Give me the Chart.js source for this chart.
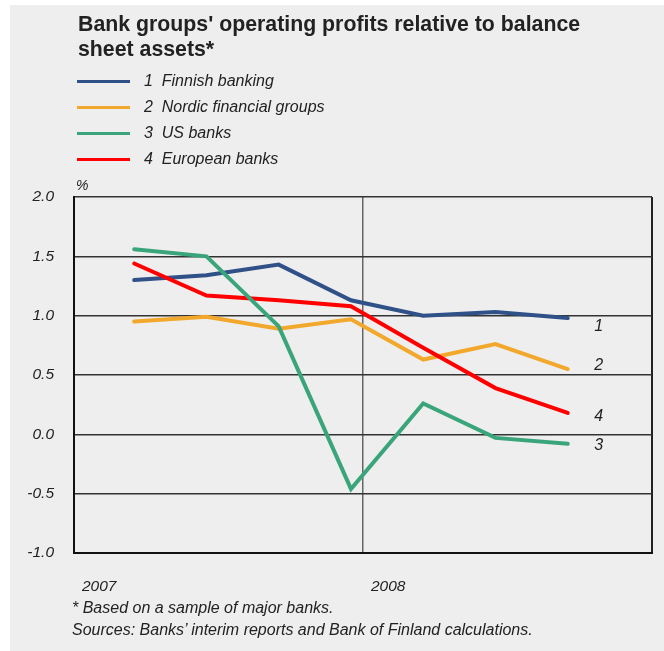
<!DOCTYPE html>
<html>
<head>
<meta charset="utf-8">
<title>Bank groups' operating profits</title>
<script src="https://cdn.jsdelivr.net/npm/chart.js@4/dist/chart.umd.min.js"></script>
<style>
    html, body { margin: 0; padding: 0; background: #fff; }
    #panel {
        position: absolute; left: 10px; top: 5px; width: 654px; height: 646px;
        background: #eeeeee;
    }
    #chart { position: absolute; left: 0; top: 0; }
    .title {
        position: absolute; left: 78px; top: 12px; margin: 0;
        font: bold 21.3px "Liberation Sans", Arial, sans-serif; line-height: 25px; color: #222;
    }
    .legend { position: absolute; left: 77px; top: 68px; }
    .legend__item { height: 26px; display: flex; align-items: center;
        font: italic 16px "Liberation Sans", Arial, sans-serif; color: #222; }
    .legend__line { width: 53px; height: 3px; margin-right: 14px; }
    .note { position: absolute; left: 72px; margin: 0;
        font: italic 16px "Liberation Sans", Arial, sans-serif; color: #222; }
</style>
</head>
<body>
<div id="panel"></div>
<canvas id="chart" width="664" height="651"></canvas>
<h3 class="title">Bank groups' operating profits relative to balance<br>sheet assets*</h3>
<div class="legend" id="legend"></div>
<p class="note" style="top:599px">* Based on a sample of major banks.</p>
<p class="note" style="top:621px">Sources: Banks’ interim reports and Bank of Finland calculations.</p>

<script>
// Quarterly observations, x in months from the start of 2007
const months = [2.5, 5.5, 8.5, 11.5, 14.5, 17.5, 20.5];

const finnishBanking = [1.30, 1.34, 1.43, 1.13, 1.00, 1.03, 0.98];
const nordicGroups   = [0.95, 0.99, 0.89, 0.97, 0.63, 0.76, 0.55];
const usBanks        = [1.56, 1.50, 0.91, -0.46, 0.26, -0.03, -0.08];
const europeanBanks  = [1.44, 1.17, 1.13, 1.08, 0.73, 0.39, 0.18];

const seriesNames = ['Finnish banking', 'Nordic financial groups', 'US banks', 'European banks'];
const seriesColors = ['#2f5188', '#f2a82c', '#3aa57a', '#ff0000'];

// Year boundaries on the x axis; the last one only closes the frame
const yearTicks = [0, 12, 24];
const yearLabels = ['2007', '2008', ''];

const FONT = '"Liberation Sans", Arial, sans-serif';

function toPoints(values) {
    return values.map((v, i) => ({ x: months[i], y: v }));
}

// number tags next to the last point of each line
const endLabels = {
    id: 'endLabels',
    afterDatasetsDraw(chart, args, opts) {
        const ctx = chart.ctx;
        ctx.save();
        ctx.font = 'italic 16px ' + FONT;
        ctx.fillStyle = '#222';
        ctx.textAlign = 'center';
        ctx.textBaseline = 'middle';
        chart.data.datasets.forEach((ds, i) => {
            const meta = chart.getDatasetMeta(i);
            const last = meta.data[meta.data.length - 1];
            ctx.fillText(String(i + 1), last.x + opts.dx, last.y + opts.dy[i]);
        });
        ctx.restore();
    }
};

// unit sign above the top-left corner of the plot
const unitLabel = {
    id: 'unitLabel',
    afterDraw(chart) {
        const ctx = chart.ctx;
        ctx.save();
        ctx.font = 'italic 14px ' + FONT;
        ctx.fillStyle = '#222';
        ctx.textBaseline = 'middle';
        ctx.fillText('%', chart.chartArea.left + 2, chart.chartArea.top - 11);
        ctx.restore();
    }
};

const datasets = [finnishBanking, nordicGroups, usBanks, europeanBanks].map((values, i) => ({
    label: (i + 1) + '  ' + seriesNames[i],
    data: toPoints(values),
    borderColor: seriesColors[i],
    backgroundColor: seriesColors[i],
    borderWidth: 4,
    borderCapStyle: 'round',
    pointRadius: 0,
    tension: 0,
    order: [4, 3, 1, 2][i]
}));

const chart = new Chart(document.getElementById('chart'), {
    type: 'line',
    data: { datasets },
    options: {
        responsive: false,
        animation: false,
        layout: { padding: { top: 197, right: 12, left: 0, bottom: 0 } },
        plugins: {
            legend: { display: false },
            tooltip: { enabled: false },
            endLabels: { dx: 31, dy: [9, -4, 2, 4] }
        },
        scales: {
            x: {
                type: 'linear',
                min: 0,
                max: 24,
                afterBuildTicks: s => { s.ticks = yearTicks.map(v => ({ value: v })); },
                afterFit: s => {
                    s.height = 98;
                    // keep the label padding from eating into the plot width
                    s.paddingLeft = 0;
                    s.paddingRight = 0;
                },
                ticks: {
                    align: 'start',
                    labelOffset: 8,
                    padding: 24,
                    color: '#222',
                    font: { family: FONT, size: 15.5, style: 'italic' },
                    callback: v => yearLabels[yearTicks.indexOf(v)]
                },
                grid: {
                    drawTicks: false,
                    color: c => c.tick.value === 12 ? '#666' : '#222',
                    lineWidth: c => c.tick.value === 12 ? 1.5 : 2
                },
                border: { color: '#111', width: 2 }
            },
            y: {
                min: -1,
                max: 2,
                afterFit: s => { s.width = 74; },
                ticks: {
                    stepSize: 0.5,
                    padding: 20,
                    color: '#222',
                    font: { family: FONT, size: 15.5, style: 'italic' },
                    callback: v => v.toFixed(1)
                },
                grid: { drawTicks: false, color: '#333', lineWidth: 1.5 },
                border: { color: '#111', width: 2 }
            }
        }
    },
    plugins: [endLabels, unitLabel]
});

// legend rows built from the datasets
const legendEl = document.getElementById('legend');
chart.data.datasets.forEach(ds => {
    const row = document.createElement('div');
    row.className = 'legend__item';
    row.innerHTML = `<span class="legend__line" style="background:${ds.borderColor}"></span><span style="white-space:pre">${ds.label}</span>`;
    legendEl.appendChild(row);
});
</script>
</body>
</html>
